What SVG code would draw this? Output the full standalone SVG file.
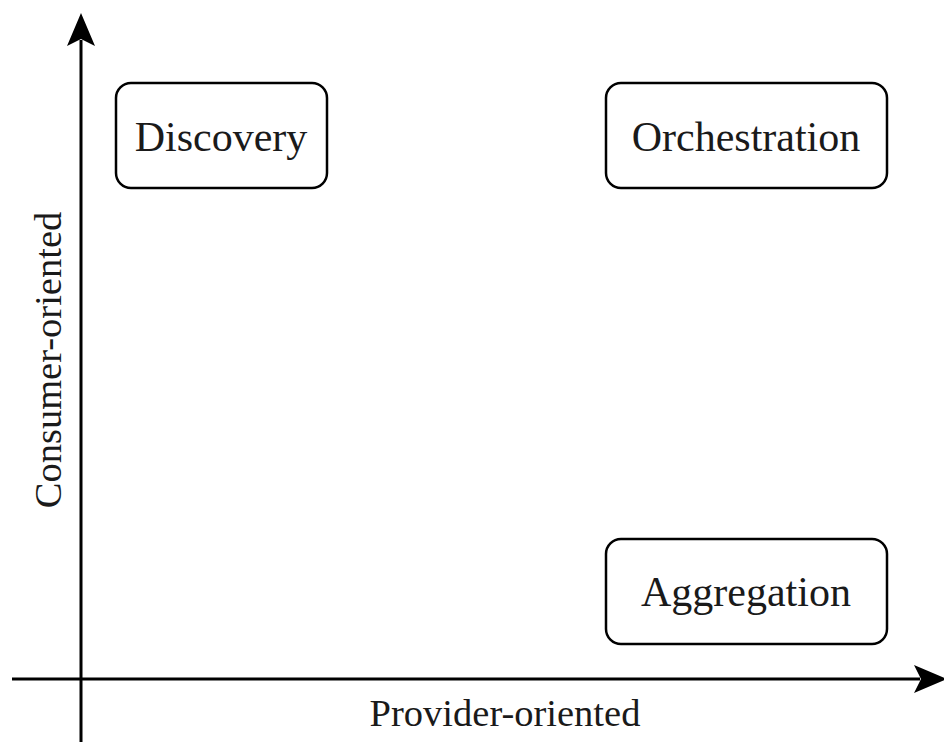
<svg xmlns="http://www.w3.org/2000/svg" width="944" height="742" viewBox="0 0 944 742">
  <style>
    .box { fill: #ffffff; stroke: #000000; stroke-width: 2.5; }
    .label { font-family: "Liberation Serif", "Times New Roman", serif; font-size: 42px; fill: #1a1a1a; text-anchor: middle; }
    .axis { stroke: #000000; stroke-width: 3; fill: none; }
    .axis-label { font-family: "Liberation Serif", "Times New Roman", serif; font-size: 38.5px; fill: #1a1a1a; text-anchor: middle; }
  </style>
  <rect width="944" height="742" fill="#ffffff"/>

  <!-- axes -->
  <g id="connectors">
    <line class="axis" x1="81" y1="742" x2="81" y2="40"/>
    <path d="M81 13 L95 46 L81 39 L67 46 Z" fill="#000000"/>
    <line class="axis" x1="12" y1="679" x2="920" y2="679"/>
    <path d="M947 679 L914 693 L921 679 L914 665 Z" fill="#000000"/>
    <text class="axis-label" x="505" y="726">Provider-oriented</text>
    <text class="axis-label" transform="translate(61 360) rotate(-90)">Consumer-oriented</text>
  </g>

  <g id="discovery">
    <rect class="box" x="116" y="83" width="211" height="105" rx="15"/>
    <text class="label" x="221" y="151">Discovery</text>
  </g>

  <g id="orchestration">
    <rect class="box" x="606" y="83" width="281" height="105" rx="15"/>
    <text class="label" x="746" y="151">Orchestration</text>
  </g>

  <g id="aggregation">
    <rect class="box" x="606" y="539" width="281" height="105" rx="15"/>
    <text class="label" x="746" y="606">Aggregation</text>
  </g>
</svg>
